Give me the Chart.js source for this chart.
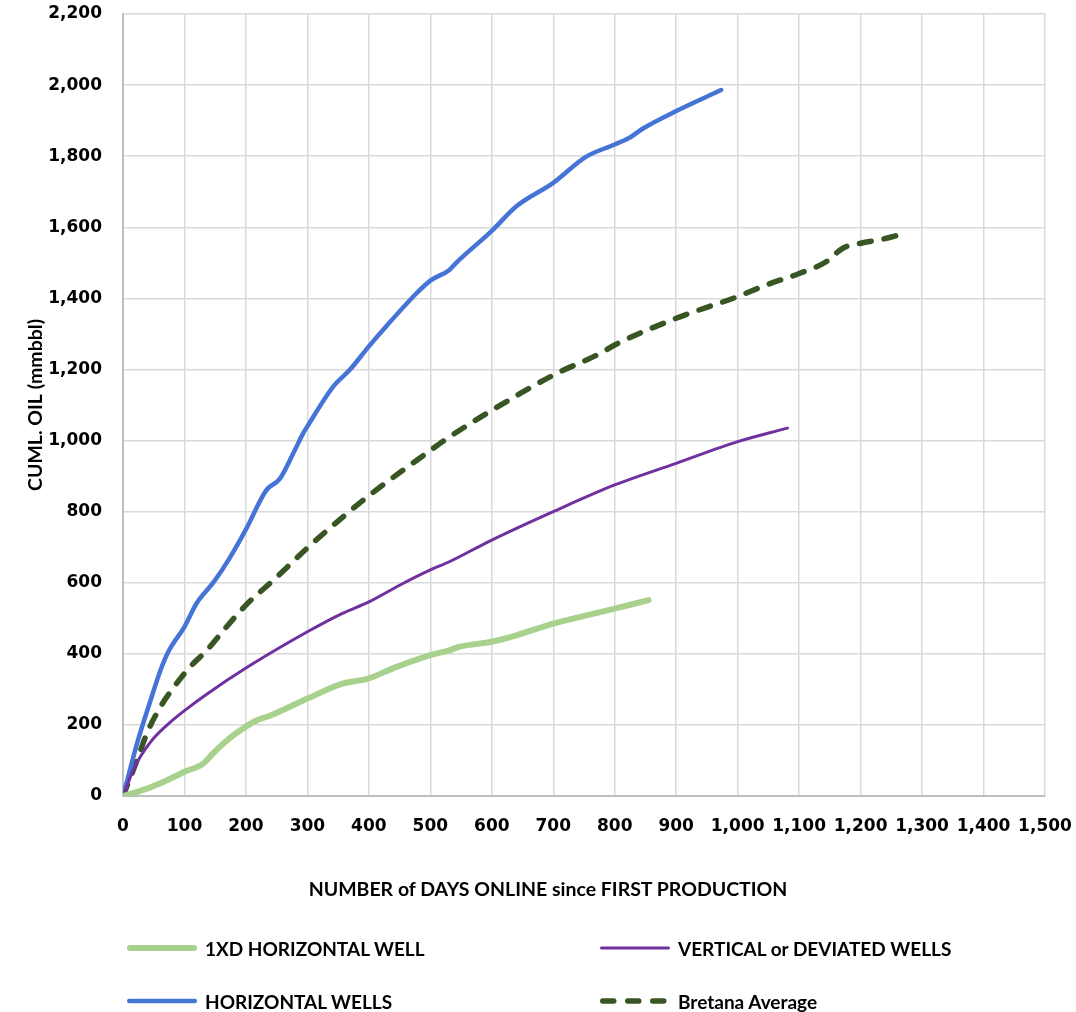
<!DOCTYPE html>
<html>
<head>
<meta charset="utf-8">
<script src="https://cdn.jsdelivr.net/npm/chart.js@4"></script>
<style>
  body { margin: 0; background: #fff; }
  #wrap { position: relative; width: 1076px; height: 1012px; }
  .leg { position: absolute; display: flex; align-items: center; font-family: Lato, sans-serif; font-weight: 700; font-size: 19px; color: #000; white-space: nowrap; }
  .leg svg { margin-right: 7px; }
  #xtitle { position: absolute; left: 548px; top: 877px; transform: translateX(-50%); font-family: Lato, sans-serif; font-weight: 700; font-size: 19.5px; color: #000; white-space: nowrap; }
</style>
</head>
<body>
<div id="wrap">
  <canvas id="chart"></canvas>
  <div id="xtitle">NUMBER of DAYS ONLINE since FIRST PRODUCTION</div>
</div>
<script>
// days online / cumulative oil (mmbbl)
const greenDays = [0, 21, 61, 100, 131, 147, 180, 218, 238, 300, 357, 400, 439, 500, 531, 548, 600, 640, 700, 800, 855];
const greenOil = [0, 10, 36, 68, 92, 121, 171, 213, 225, 274, 316, 331, 359, 396, 410, 420, 434, 452, 485, 527, 551];

const vertDays = [0, 8, 17, 44, 72, 100, 135, 200, 300, 357, 400, 450, 500, 531, 600, 700, 800, 900, 1000, 1081];
const vertOil = [0, 35, 75, 150, 200, 240, 285, 360, 462, 514, 546, 593, 636, 659, 720, 800, 875, 936, 997, 1035];

const horizDays = [0, 7, 23, 45, 61, 75, 100, 120, 148, 173, 200, 233, 255, 277, 293, 300, 342, 369, 400, 428, 478, 500, 531, 542, 600, 640, 700, 753, 800, 824, 846, 900, 973];
const horizOil = [0, 45, 149, 270, 354, 410, 476, 543, 603, 668, 750, 860, 892, 964, 1020, 1040, 1152, 1199, 1265, 1321, 1415, 1450, 1480, 1500, 1590, 1659, 1725, 1798, 1833, 1852, 1878, 1927, 1986];

const bretDays = [0, 23, 39, 61, 83, 109, 137, 164, 200, 249, 300, 357, 400, 500, 531, 600, 700, 776, 800, 900, 1000, 1047, 1100, 1144, 1171, 1200, 1242, 1277];
const bretOil = [0, 101, 177, 251, 307, 363, 411, 467, 537, 614, 698, 784, 845, 972, 1010, 1085, 1184, 1245, 1269, 1344, 1405, 1438, 1470, 1503, 1541, 1555, 1569, 1586];

const seriesNames = ["1XD HORIZONTAL WELL", "VERTICAL or DEVIATED WELLS", "HORIZONTAL WELLS", "Bretana Average"];

const xTicksMax = 1500;
const yTicksMax = 2200;

function pts(xs, ys) {
  return xs.map((x, i) => ({ x: x, y: ys[i] }));
}

document.addEventListener("DOMContentLoaded", function () {
  const canvas = document.getElementById("chart");
  canvas.width = 1076;
  canvas.height = 1012;
  const ctx = canvas.getContext("2d");

  const styles = [
    { color: "#A9D18E", width: 6, dash: [] },
    { color: "#7030A0", width: 3, dash: [] },
    { color: "#4673D6", width: 4.5, dash: [] },
    { color: "#375623", width: 5.5, dash: [12, 13] },
  ];
  const datasets = [
    pts(greenDays, greenOil),
    pts(vertDays, vertOil),
    pts(horizDays, horizOil),
    pts(bretDays, bretOil),
  ].map((d, i) => ({
    label: seriesNames[i],
    data: d,
    borderColor: styles[i].color,
    backgroundColor: styles[i].color,
    borderWidth: styles[i].width,
    borderDash: styles[i].dash,
    borderCapStyle: "round",
    borderJoinStyle: "round",
    pointRadius: 0,
    cubicInterpolationMode: "monotone",
    fill: false,
  }));

  const tickFont = { family: "'DejaVu Sans'", size: 17, weight: "bold" };
  const titleFont = { family: "Lato", size: 19.5, weight: "bold" };

  new Chart(ctx, {
    type: "line",
    data: { datasets: datasets },
    options: {
      responsive: false,
      animation: false,
      locale: "en-US",
      layout: { padding: { top: 14, right: 31, bottom: 106, left: 0 } },
      scales: {
        x: {
          type: "linear",
          min: 0,
          max: xTicksMax,
          afterFit: function (s) {
            s.height = 110;
            s.paddingLeft = 0;
            s.paddingRight = 0;
          },
          ticks: {
            stepSize: 100,
            color: "#000",
            font: tickFont,
            padding: 20,
            maxRotation: 0,
            callback: (v) => v.toLocaleString("en-US"),
          },
          grid: { color: "#d9d9d9", lineWidth: 1.5, drawTicks: false },
          border: { color: "#bfbfbf", width: 2 },
        },
        y: {
          min: 0,
          max: yTicksMax,
          afterFit: function (s) {
            s.width = 123;
            s.paddingTop = 0;
            s.paddingBottom = 0;
          },
          ticks: {
            stepSize: 200,
            color: "#000",
            font: tickFont,
            padding: 21,
            callback: (v) => v.toLocaleString("en-US"),
          },
          grid: { color: "#d9d9d9", lineWidth: 1.5, drawTicks: false },
          border: { color: "#bfbfbf", width: 2 },
          title: {
            display: true,
            text: "CUML. OIL (mmbbl)",
            color: "#000",
            font: titleFont,
            padding: { top: 24, bottom: 0 },
          },
        },
      },
      plugins: {
        legend: { display: false },
        tooltip: { enabled: false },
      },
    },
  });

  // html legend, two columns as in the picture
  const wrap = document.getElementById("wrap");
  const legPos = [
    { left: 126, top: 948 },
    { left: 599, top: 948 },
    { left: 126, top: 1001 },
    { left: 599, top: 1001 },
  ];
  seriesNames.forEach(function (name, i) {
    const el = document.createElement("div");
    el.className = "leg";
    el.style.left = legPos[i].left + "px";
    el.style.top = legPos[i].top - 12 + "px";
    const st = styles[i];
    const dash = st.dash.length ? ' stroke-dasharray="11 14"' : "";
    el.innerHTML =
      '<svg width="72" height="24"><line x1="' + (st.width / 2 + 1) + '" y1="12" x2="' + (71 - st.width / 2) +
      '" y2="12" stroke="' + st.color + '" stroke-width="' + st.width + '" stroke-linecap="round"' + dash + "/></svg>" +
      "<span>" + name + "</span>";
    wrap.appendChild(el);
  });
});
</script>
</body>
</html>
